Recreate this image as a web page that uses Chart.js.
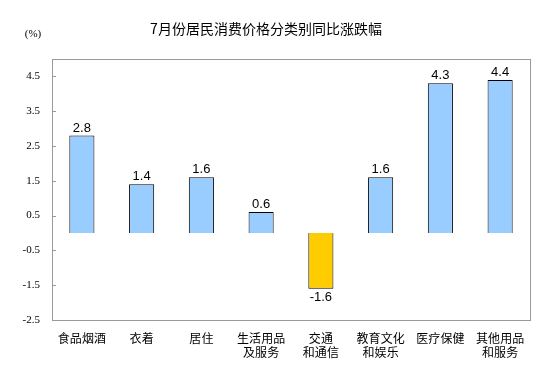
<!DOCTYPE html>
<html>
<head>
<meta charset="utf-8">
<script src="https://cdn.jsdelivr.net/npm/chart.js@4/dist/chart.umd.min.js"></script>
<style>
html,body{margin:0;padding:0;background:#fff;}
#wrap{width:553px;height:384px;position:relative;}
</style>
</head>
<body>
<div id="wrap"><canvas id="c" width="553" height="384"></canvas></div>
<script>
const titleText = '7月份居民消费价格分类别同比涨跌幅';
const unitText = '(%)';
const categories = [
  ['食品烟酒'], ['衣着'], ['居住'], ['生活用品', '及服务'],
  ['交通', '和通信'], ['教育文化', '和娱乐'], ['医疗保健'], ['其他用品', '和服务']
];
const values = [2.8, 1.4, 1.6, 0.6, -1.6, 1.6, 4.3, 4.4];
const yTicks = [4.5, 3.5, 2.5, 1.5, 0.5, -0.5, -1.5, -2.5];

const posColor = '#99CCFF';
const negColor = '#FFCC00';

const decor = {
  id: 'decor',
  afterDraw(chart) {
    const ctx = chart.ctx;
    const a = chart.chartArea;
    const y = chart.scales.y;
    ctx.save();
    // frame
    ctx.strokeStyle = '#999999';
    ctx.lineWidth = 1;
    ctx.strokeRect(Math.round(a.left) + 0.5, Math.round(a.top) + 0.5,
      Math.round(a.right - a.left), Math.round(a.bottom - a.top));
    // inner tick marks
    ctx.beginPath();
    yTicks.forEach(v => {
      const py = Math.round(y.getPixelForValue(v)) + 0.5;
      ctx.moveTo(a.left, py);
      ctx.lineTo(a.left + 4, py);
    });
    ctx.stroke();
    // value labels
    const meta = chart.getDatasetMeta(0);
    ctx.fillStyle = '#000';
    ctx.font = '13px "Liberation Sans", Arial, sans-serif';
    ctx.textAlign = 'center';
    meta.data.forEach((bar, i) => {
      const v = values[i];
      const txt = v.toFixed(1);
      if (v >= 0) {
        ctx.textBaseline = 'bottom';
        ctx.fillText(txt, bar.x, bar.y - 1);
      } else {
        ctx.textBaseline = 'top';
        ctx.fillText(txt, bar.x, bar.y + 2);
      }
    });
    // title
    ctx.font = '14px "Noto Sans CJK SC", sans-serif';
    ctx.textBaseline = 'middle';
    ctx.textAlign = 'center';
    ctx.fillText(titleText, 266, 29);
    // unit
    ctx.font = '11px "Liberation Serif", serif';
    ctx.fillText(unitText, 33, 34);
    ctx.restore();
  }
};

new Chart(document.getElementById('c'), {
  type: 'bar',
  data: {
    labels: categories,
    datasets: [{
      data: values,
      backgroundColor: values.map(v => v >= 0 ? posColor : negColor),
      borderColor: '#000000',
      borderWidth: 1,
      barPercentage: 0.42,
      categoryPercentage: 1.0
    }]
  },
  options: {
    responsive: false,
    animation: false,
    devicePixelRatio: 1,
    layout: { padding: { top: 59, right: 23, left: 0, bottom: 0 } },
    plugins: { legend: { display: false }, tooltip: { enabled: false }, title: { display: false } },
    scales: {
      x: {
        grid: { display: false, drawTicks: false },
        border: { display: false },
        ticks: {
          color: '#000',
          font: { family: '"Noto Sans CJK SC", sans-serif', size: 12, lineHeight: 1.2 },
          padding: 11,
          maxRotation: 0,
          autoSkip: false
        },
        afterFit(s) { s.height = 64; }
      },
      y: {
        min: -2.5,
        max: 5.0,
        afterBuildTicks(s) { s.ticks = yTicks.map(v => ({ value: v })); },
        grid: {
          drawTicks: false,
          color: ctx => (ctx.tick && ctx.tick.value === 0) ? '#999999' : 'rgba(0,0,0,0)'
        },
        border: { display: false },
        ticks: {
          color: '#000',
          font: { family: '"Liberation Serif", serif', size: 11 },
          padding: 12,
          callback: v => Number(v).toFixed(1)
        },
        afterFit(s) { s.width = 52; }
      }
    }
  },
  plugins: [decor]
});
</script>
</body>
</html>
